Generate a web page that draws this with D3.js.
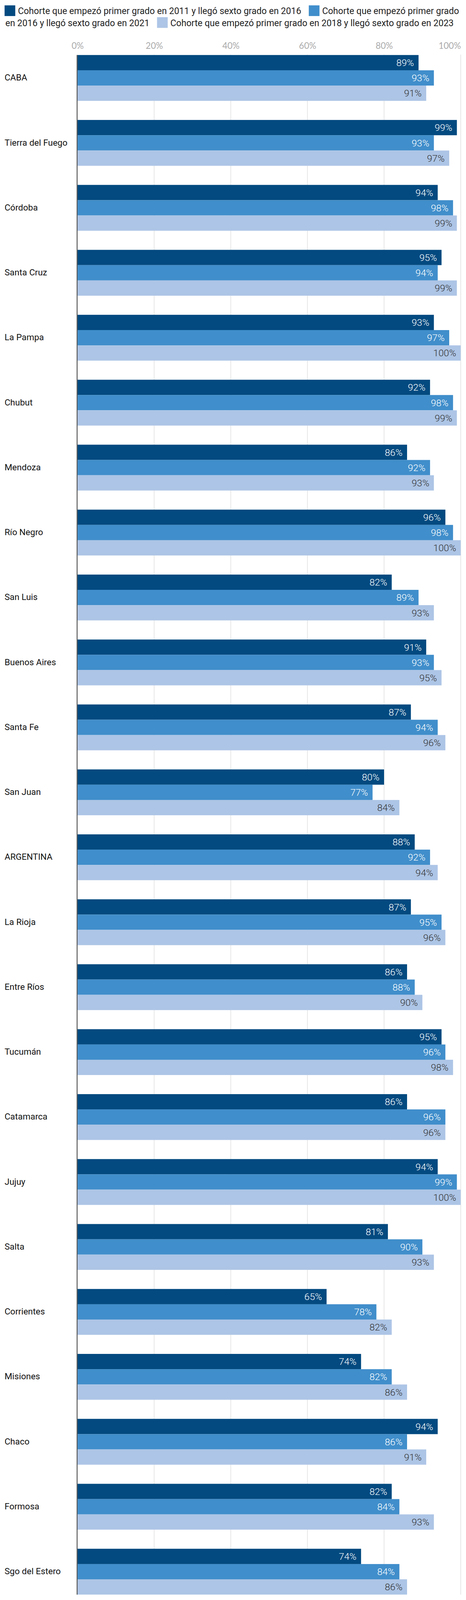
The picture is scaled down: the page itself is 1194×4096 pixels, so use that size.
<!DOCTYPE html>
<html>
<head>
<meta charset="utf-8">
<script src="https://cdn.jsdelivr.net/npm/d3@7"></script>
<style>
html,body{margin:0;padding:0;background:#fff;}
svg{display:block;}
</style>
</head>
<body>
<svg id="chart"></svg>
<script>
const categories = ["CABA","Tierra del Fuego","Córdoba","Santa Cruz","La Pampa","Chubut","Mendoza","Río Negro","San Luis","Buenos Aires","Santa Fe","San Juan","ARGENTINA","La Rioja","Entre Ríos","Tucumán","Catamarca","Jujuy","Salta","Corrientes","Misiones","Chaco","Formosa","Sgo del Estero"];
const seriesNames = [
  "Cohorte que empezó primer grado en 2011 y llegó sexto grado en 2016",
  "Cohorte que empezó primer grado en 2016 y llegó sexto grado en 2021",
  "Cohorte que empezó primer grado en 2018 y llegó sexto grado en 2023"
];
const cohort2011 = [89,99,94,95,93,92,86,96,82,91,87,80,88,87,86,95,86,94,81,65,74,94,82,74];
const cohort2016 = [93,93,98,94,97,98,92,98,89,93,94,77,92,95,88,96,96,99,90,78,82,86,84,84];
const cohort2018 = [91,97,99,99,100,99,93,100,93,95,96,84,94,96,90,98,96,100,93,82,86,91,93,86];
const tickValues = [0,20,40,60,80,100];
const colors = ["#034a80","#408ecb","#adc5e6"];
const labelColors = ["#ffffff","#ffffff","#333333"];

(function(){
const RW = 1220, RH = 4184, S = 0.978;
const svg = d3.select("#chart")
  .attr("width", RW*S).attr("height", RH*S)
  .attr("viewBox", `0 0 ${RW} ${RH}`);

const series = [cohort2011, cohort2016, cohort2018];
const data = categories.map((c,i)=>({cat:c, vals: series.map(s=>s[i])}));

const x0 = 203, x1 = 1207;
const topY = 144, groupStep = 170;
const x = d3.scaleLinear().domain([0,100]).range([x0,x1]);
const gridBottom = topY + groupStep*categories.length - 50;
const y = d3.scaleBand().domain(categories)
  .range([topY, gridBottom])
  .paddingInner(50/170).paddingOuter(0);
const yInner = d3.scaleBand().domain([0,1,2]).range([0, y.bandwidth()]);

// gridlines
svg.append("g").selectAll("line").data(tickValues.slice(1)).join("line")
  .attr("x1", d=>x(d)).attr("x2", d=>x(d))
  .attr("y1", 143).attr("y2", gridBottom)
  .attr("stroke", "#e6e6e6").attr("stroke-width", 2);

// axis tick labels
const xAxis = d3.axisTop(x).tickValues(tickValues).tickFormat(d=>d+"%").tickSize(0).tickPadding(0);
const ax = svg.append("g").attr("transform", `translate(0,128)`).call(xAxis);
ax.select(".domain").remove();
ax.selectAll("text")
  .attr("fill","#aaaaaa")
  .style("font-family","Lato, 'Open Sans', sans-serif")
  .style("font-size","23px")
  .attr("dy", 0)
  .attr("text-anchor", d=> d===100 ? "end" : "middle");

// bars
const groups = svg.append("g").selectAll("g").data(data).join("g")
  .attr("transform", d=>`translate(0,${y(d.cat)})`);

groups.selectAll("rect").data(d=>d.vals).join("rect")
  .attr("x", x(0))
  .attr("y", (d,i)=>yInner(i))
  .attr("width", d=>x(d)-x(0))
  .attr("height", yInner.bandwidth())
  .attr("fill", (d,i)=>colors[i]);

groups.selectAll("text.val").data(d=>d.vals).join("text")
  .attr("class","val")
  .attr("x", d=>x(d)-12)
  .attr("y", (d,i)=>yInner(i)+yInner.bandwidth()/2)
  .attr("dy","0.36em")
  .attr("text-anchor","end")
  .attr("fill",(d,i)=>labelColors[i])
  .style("font-family","Roboto, sans-serif")
  .style("font-weight",300)
  .style("font-size","25px")
  .text(d=>d+"%");

// category labels
groups.append("text")
  .attr("x", 12)
  .attr("y", y.bandwidth()/2)
  .attr("dy","0.3em")
  .attr("fill","#111")
  .style("font-family","Roboto, sans-serif")
  .style("font-size","23px")
  .text(d=>d.cat);

// axis line
svg.append("line")
  .attr("x1", x0-1).attr("x2", x0-1)
  .attr("y1", topY).attr("y2", gridBottom)
  .attr("stroke","#333").attr("stroke-width",2);

// legend with flow layout
const leg = svg.append("g");
const legFont = "Roboto, sans-serif", lineH = 31;
const maxRight = 1212;
const measure = leg.append("text").style("font-family",legFont).style("font-size","23px");
function tw(s){ measure.text(s); return measure.node().getComputedTextLength(); }
// fit font size so first legend entry spans the same width as the original
const legSize = 23 * 742 / tw(seriesNames[0]);
measure.style("font-size", legSize+"px");
const spaceW = tw("a a") - tw("aa");
let lx = 12, baseline = 37;
seriesNames.forEach((name,i)=>{
  if (lx + 28 + 7 + tw(name.split(" ")[0]) > maxRight) { lx = 12; baseline += lineH; }
  leg.append("rect").attr("x", lx).attr("y", baseline-23).attr("width",28).attr("height",28).attr("fill",colors[i]);
  lx += 28 + 7;
  const words = name.split(" ");
  let line = [], lineX = lx;
  const flush = ()=>{
    if (line.length) leg.append("text").attr("x", lineX).attr("y", baseline)
      .attr("fill","#222").style("font-family",legFont).style("font-size",legSize+"px")
      .text(line.join(" "));
  };
  words.forEach(w=>{
    const wW = tw(w);
    if (lx + wW > maxRight) {
      flush(); line = []; baseline += lineH; lx = 14; lineX = lx;
    }
    line.push(w); lx += wW + spaceW;
  });
  flush();
  lx += 14;
});
measure.remove();
})();
</script>
</body>
</html>
